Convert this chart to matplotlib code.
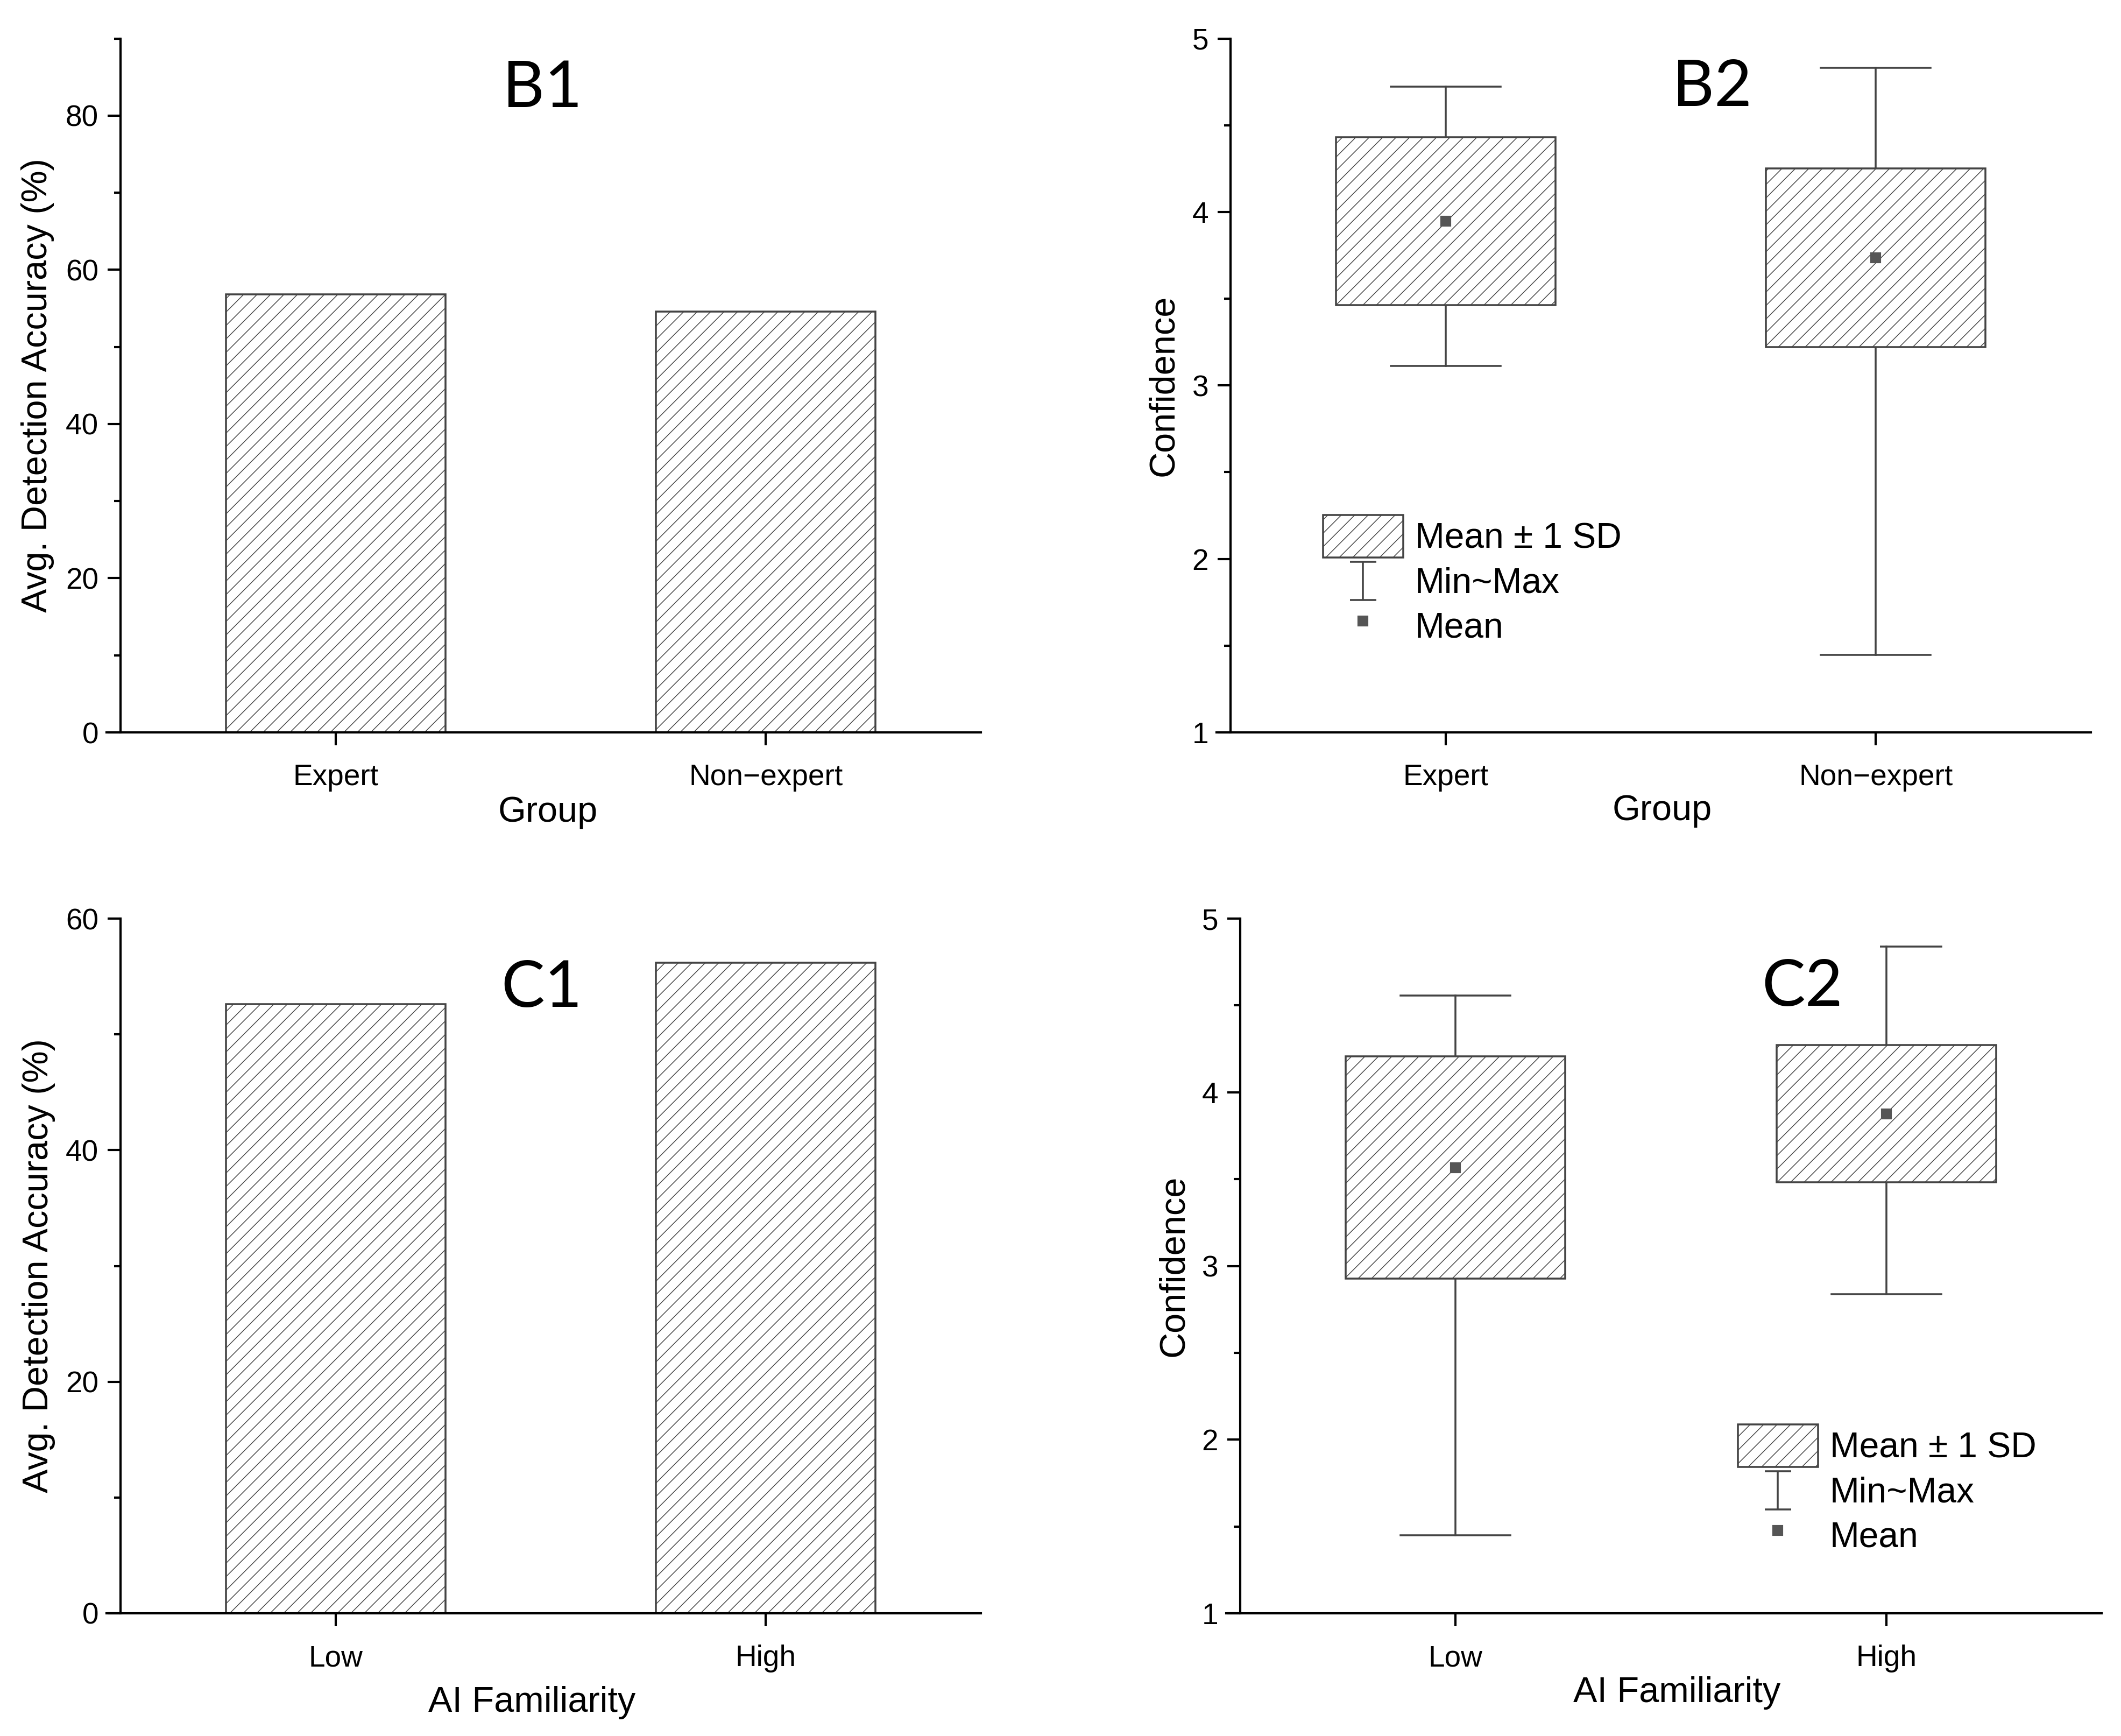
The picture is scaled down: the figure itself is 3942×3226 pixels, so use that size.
"""Detection accuracy and confidence by group / AI familiarity (B1, B2, C1, C2)."""
import matplotlib
matplotlib.use('Agg')
import matplotlib.pyplot as plt
from matplotlib.ticker import MultipleLocator, NullLocator
from matplotlib.legend_handler import HandlerBase
from matplotlib.lines import Line2D
from matplotlib.patches import Patch

# ---- data ----
group_labels = ['Expert', 'Non\u2212expert']
group_accuracy = [56.8, 54.6]
group_conf_mean = [3.946, 3.736]
group_conf_sd = [0.484, 0.514]
group_conf_min = [3.111, 1.446]
group_conf_max = [4.722, 4.832]

fam_labels = ['Low', 'High']
fam_accuracy = [52.6, 56.2]
fam_conf_mean = [3.566, 3.876]
fam_conf_sd = [0.640, 0.395]
fam_conf_min = [1.449, 2.836]
fam_conf_max = [4.557, 4.838]

# ---- style ----
plt.rcParams['font.family'] = ['Liberation Sans', 'DejaVu Sans']
plt.rcParams['hatch.linewidth'] = 0.35
EDGE = '#444444'
HATCH = '////'
W, H, DPI = 3942, 3226, 300

fig = plt.figure(figsize=(W / DPI, H / DPI), dpi=DPI, facecolor='white')


def _rect(left, top, right, bottom):
    """Pixel box -> figure fraction rect."""
    return [left / W, 1 - bottom / H, (right - left) / W, (bottom - top) / H]


ax_b1 = fig.add_axes(_rect(224, 71.5, 1823, 1361))
ax_b2 = fig.add_axes(_rect(2287, 71.5, 3886, 1361))
ax_c1 = fig.add_axes(_rect(224, 1707, 1823, 2998))
ax_c2 = fig.add_axes(_rect(2305, 1707, 3906, 2998))


class MinMaxHandler(HandlerBase):
    """Draw the I-shaped min~max glyph in the legend."""

    def create_artists(self, legend, orig_handle, xdescent, ydescent,
                       width, height, fontsize, trans):
        cx = -xdescent + width / 2
        y0 = -ydescent + 0.05 * height
        y1 = -ydescent + 0.95 * height
        hw = 5.8
        segs = [([cx, cx], [y0, y1]), ([cx - hw, cx + hw], [y1, y1]),
                ([cx - hw, cx + hw], [y0, y0])]
        arts = []
        for xs, ys in segs:
            ln = Line2D(xs, ys, color=EDGE, linewidth=0.85,
                        solid_capstyle='butt')
            ln.set_transform(trans)
            arts.append(ln)
        return arts


def style_axes(ax, labels, ymin, ymax, major, minor):
    ax.set_xlim(0.5, 2.5)
    ax.set_ylim(ymin, ymax)
    ax.set_xticks([1, 2])
    ax.set_xticklabels(labels)
    ax.yaxis.set_major_locator(MultipleLocator(major))
    ax.yaxis.set_minor_locator(MultipleLocator(minor))
    ax.xaxis.set_minor_locator(NullLocator())
    for side in ('top', 'right'):
        ax.spines[side].set_visible(False)
    for side in ('left', 'bottom'):
        ax.spines[side].set_linewidth(1.0)
        ax.spines[side].set_color('black')
    # x axis line pokes a little left of the y axis, as in Origin
    ax.spines['bottom'].set_bounds(0.5 - 0.0325, 2.5)
    ax.tick_params(axis='both', which='major', direction='out', length=5.8,
                   width=1.0, labelsize=13.2, color='black')
    ax.tick_params(axis='y', which='minor', direction='out', length=2.9,
                   width=1.0)
    ax.tick_params(axis='x', which='major', pad=8.2)
    ax.tick_params(axis='y', which='major', pad=4)


def set_labels(ax, xlabel, ylabel, xlab_pos, ylab_pos):
    ax.set_xlabel(xlabel, fontsize=16)
    ax.set_ylabel(ylabel, fontsize=16)
    ax.xaxis.label.set_va('center')
    ax.yaxis.label.set_va('center')
    ax.xaxis.set_label_coords(*xlab_pos)
    ax.yaxis.set_label_coords(*ylab_pos)


def bar_panel(ax, labels, values, ymax, major, minor, ylabel, xlabel,
              xlab_pos, ylab_pos):
    style_axes(ax, labels, 0, ymax, major, minor)
    ax.bar([1, 2], values, width=0.51, color='white', edgecolor=EDGE,
           hatch=HATCH, linewidth=0.85, zorder=2)
    set_labels(ax, xlabel, ylabel, xlab_pos, ylab_pos)


def box_panel(ax, labels, mean, sd, vmin, vmax, xlabel, xlab_pos, ylab_pos,
              leg_pos):
    style_axes(ax, labels, 1, 5, 1, 0.5)
    stats = []
    for m, s, lo, hi in zip(mean, sd, vmin, vmax):
        stats.append(dict(med=m, q1=m - s, q3=m + s, whislo=lo, whishi=hi,
                          mean=m, fliers=[]))
    ax.bxp(stats, positions=[1, 2], widths=0.51, capwidths=0.255,
           patch_artist=True, showmeans=True, showfliers=False,
           manage_ticks=False,
           boxprops=dict(facecolor='white', edgecolor=EDGE, hatch=HATCH,
                         linewidth=0.85, zorder=3),
           whiskerprops=dict(color=EDGE, linewidth=0.85, zorder=1),
           capprops=dict(color=EDGE, linewidth=0.85, zorder=1),
           medianprops=dict(linestyle='none', linewidth=0),
           meanprops=dict(marker='s', markersize=3.8, markerfacecolor='#555555',
                          markeredgecolor='#555555', zorder=4))
    set_labels(ax, xlabel, 'Confidence', xlab_pos, ylab_pos)

    handles = [Patch(facecolor='white', edgecolor=EDGE, hatch=HATCH,
                     linewidth=0.85),
               'minmax',
               Line2D([], [], linestyle='none', marker='s', markersize=3.8,
                      color='#555555')]
    leg = ax.legend(handles, ['Mean \u00b1 1 SD', 'Min~Max', 'Mean'],
                    handler_map={str: MinMaxHandler()},
                    loc='upper left', bbox_to_anchor=leg_pos, frameon=False,
                    fontsize=15.8, handlelength=2.26, handleheight=1.47,
                    handletextpad=0.33, labelspacing=0.06, borderpad=0,
                    borderaxespad=0)
    leg.set_zorder(5)


bar_panel(ax_b1, group_labels, group_accuracy, 90, 20, 10,
          'Avg. Detection Accuracy (%)', 'Group',
          (0.497, -0.1155), (-0.0963, 0.5))
box_panel(ax_b2, group_labels, group_conf_mean, group_conf_sd,
          group_conf_min, group_conf_max, 'Group',
          (0.5016, -0.1132), (-0.0775, 0.5), (0.1076, 0.3133))
bar_panel(ax_c1, fam_labels, fam_accuracy, 60, 20, 10,
          'Avg. Detection Accuracy (%)', 'AI Familiarity',
          (0.478, -0.1286), (-0.0953, 0.5))
box_panel(ax_c2, fam_labels, fam_conf_mean, fam_conf_sd,
          fam_conf_min, fam_conf_max, 'AI Familiarity',
          (0.507, -0.1146), (-0.0765, 0.5), (0.5778, 0.2719))

# panel letters
letter_kw = dict(fontfamily='Lato', fontsize=29, ha='center', va='baseline')
ax_b1.text(0.4903, 0.9011, 'B1', transform=ax_b1.transAxes, **letter_kw)
ax_b2.text(0.5597, 0.9027, 'B2', transform=ax_b2.transAxes, **letter_kw)
ax_c1.text(0.4897, 0.8730, 'C1', transform=ax_c1.transAxes, **letter_kw)
# C2 sits on a white box that hides part of the High whisker cap
ax_c2.text(0.6527, 0.8745, 'C2', transform=ax_c2.transAxes, zorder=2,
           bbox=dict(boxstyle='square,pad=0.57', facecolor='white',
                     edgecolor='none'), **letter_kw)

fig.savefig('out.png', dpi=DPI, facecolor='white')
plt.close(fig)
